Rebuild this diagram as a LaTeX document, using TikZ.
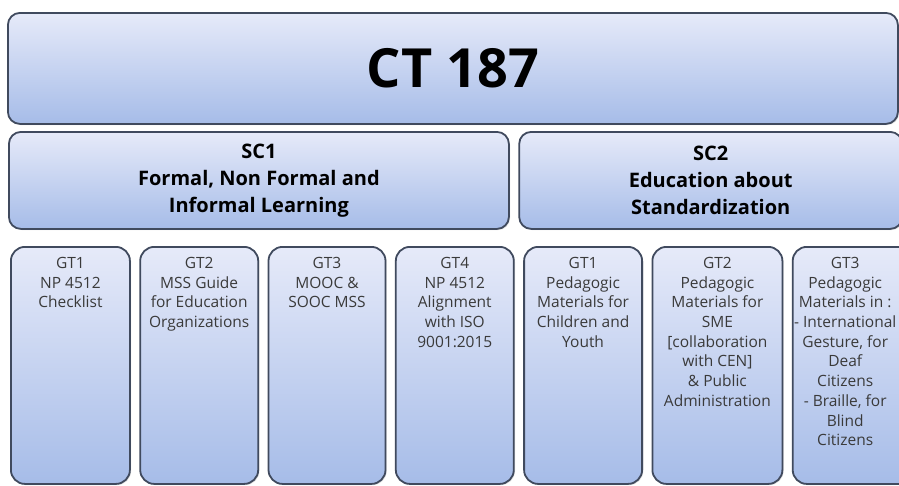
\documentclass[tikz,border=0pt]{standalone}
\usepackage{fontspec}
\setmainfont{Open Sans}
\usetikzlibrary{shadows}
\usetikzlibrary{positioning}

\begin{document}
\begin{tikzpicture}[x=1pt,y=-1pt,node distance=8.5pt,
	panel/.style={draw=boxline,line width=1.8pt,rounded corners=12pt,
		top color=boxtop,bottom color=boxbot,inner sep=0pt,
		drop shadow={opacity=0.25,shadow xshift=1.2pt,shadow yshift=-1.2pt}},
	head/.style={panel,align=center,font=\bfseries\fontsize{20}{27}\selectfont},
	gtbox/.style={panel,rounded corners=14pt,minimum height=237pt},
	gtlabel/.style={align=center,inner sep=0pt,text=gttext,
		font=\fontsize{15.5}{19.7}\selectfont}]
	
	\definecolor{boxtop}{RGB}{230,234,249}
	\definecolor{boxbot}{RGB}{166,188,232}
	\definecolor{boxline}{RGB}{64,74,94}
	\definecolor{gttext}{RGB}{58,58,58}
	
	\useasboundingbox (0,0) rectangle (899,485);
	
	% committee
	\node[panel, anchor=north west, minimum width=890pt, minimum height=111pt,
		font=\bfseries\fontsize{54}{60}\selectfont] (ct) at (7,12) {CT 187};
	
	% sub-committees
	\node[head, anchor=north west, minimum width=500pt, minimum height=97pt] (sc1) at (8,131)
		{SC1\\Formal, Non Formal and\\Informal Learning};
	\node[head, minimum width=383pt, minimum height=97pt] (sc2) [right=of sc1]
		{SC2\\Education about\\Standardization};
	
	% working groups
	\node[gtbox, anchor=north west, minimum width=119pt] (a1) at (10,246) {};
	\node[gtbox, minimum width=118pt] (a2) [right=of a1] {};
	\node[gtbox, minimum width=117pt] (a3) [right=of a2] {};
	\node[gtbox, minimum width=118pt] (a4) [right=of a3] {};
	\node[gtbox, minimum width=118pt] (b1) [right=of a4] {};
	\node[gtbox, minimum width=130pt] (b2) [right=of b1] {};
	\node[gtbox, minimum width=133pt] (b3) [right=of b2] {};
	
	\node[gtlabel, below=11pt of a1.north] (a1t) {GT1\\NP 4512\\Checklist};
	\node[gtlabel, below=11pt of a2.north] (a2t) {GT2\\MSS Guide\\for Education\\Organizations};
	\node[gtlabel, below=11pt of a3.north] (a3t) {GT3\\MOOC \&\\SOOC MSS};
	\node[gtlabel, below=11pt of a4.north] (a4t) {GT4\\NP 4512\\Alignment\\with ISO\\9001:2015};
	\node[gtlabel, below=11pt of b1.north] (b1t) {GT1\\Pedagogic\\Materials for\\Children and\\Youth};
	\node[gtlabel, below=11pt of b2.north] (b2t) {GT2\\Pedagogic\\Materials for\\SME\\{[collaboration}\\with CEN]\\\& Public\\Administration};
	\node[gtlabel, below=11pt of b3.north, xshift=-14pt] (b3t) {GT3\\Pedagogic\\Materials in :\\-\ International\\Gesture, for\\Deaf\\Citizens\\-\ Braille, for\\Blind\\Citizens};
	
\end{tikzpicture}
\end{document}
